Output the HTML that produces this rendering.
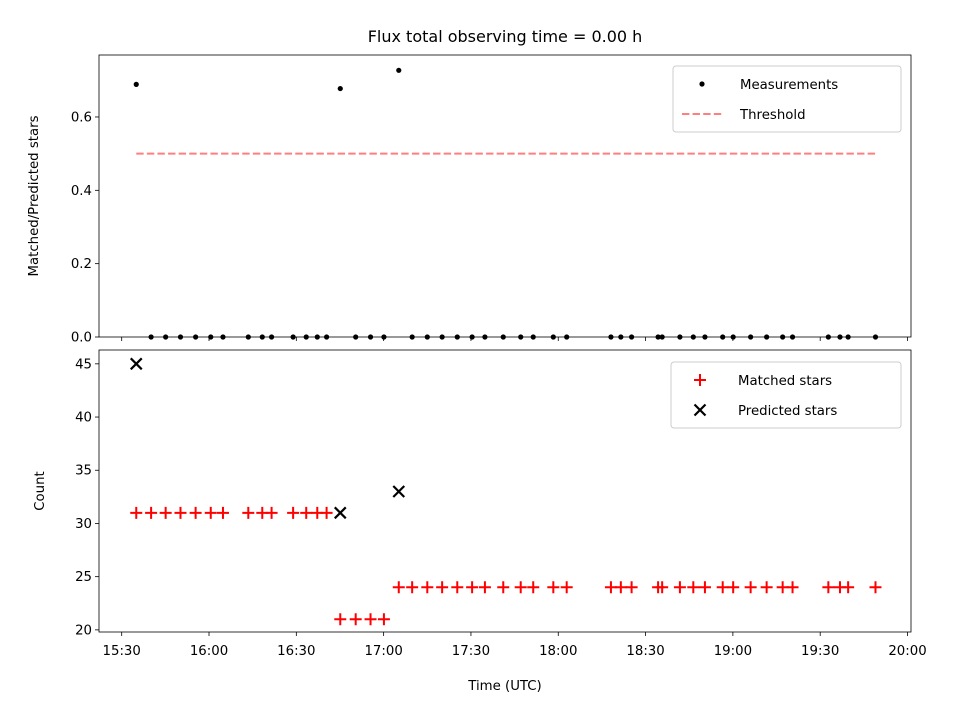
<!DOCTYPE html>
<html><head><meta charset="utf-8"><style>
body{margin:0;background:#fff}
svg{display:block;font-family:"DejaVu Sans","Liberation Sans",sans-serif}
</style></head><body>
<svg id="c" width="960" height="720" viewBox="0 0 960 720">
<rect width="960" height="720" fill="#fff"/>
<text x="505" y="42" text-anchor="middle" font-size="16">Flux total observing time = 0.00 h</text>
<g id="topPanel"></g>
<g id="botPanel"></g>
</svg>
<script>
// minutes after 15:30 UTC
const times=[5.0,10.1,15.1,20.2,25.4,30.6,34.8,43.5,48.3,51.5,58.9,63.4,67.2,70.4,75.1,80.4,85.5,90.1,95.2,99.8,105.0,110.1,115.3,120.4,124.8,131.1,137.1,141.4,148.3,152.9,168.1,171.5,175.2,184.3,185.7,191.8,196.4,200.4,206.5,210.1,216.1,221.6,227.1,230.5,242.8,246.8,249.6,259.0];
const matched=[31,31,31,31,31,31,31,31,31,31,31,31,31,31,21,21,21,21,24,24,24,24,24,24,24,24,24,24,24,24,24,24,24,24,24,24,24,24,24,24,24,24,24,24,24,24,24,24];
const predTimes=[5.0,75.1,95.2];
const predicted=[45,31,33];
const threshold=0.5;
const xTickLabels=["15:30","16:00","16:30","17:00","17:30","18:00","18:30","19:00","19:30","20:00"];
const topTicks=[0.0,0.2,0.4,0.6];
const botTicks=[20,25,30,35,40,45];

const NS="http://www.w3.org/2000/svg";
function mk(p,t,a){const e=document.createElementNS(NS,t);for(const k in a)e.setAttribute(k,a[k]);p.appendChild(e);return e;}
const X0=99,X1=911,xmin=-7.8,xmax=271.2;
const xs=m=>X0+(m-xmin)/(xmax-xmin)*(X1-X0);
const TP={top:55,bot:337,min:0,max:0.769};
const BP={top:350,bot:632,min:19.8,max:46.3};
const ys=(P,v)=>P.bot-(v-P.min)/(P.max-P.min)*(P.bot-P.top);
const topG=document.getElementById('topPanel'),botG=document.getElementById('botPanel');

function frame(g,P,ticks,fmt,showX){
  for(const v of ticks){const y=ys(P,v);
    const t=mk(g,'line',{x1:X0-4,x2:X0,y1:y,y2:y,stroke:'#000','stroke-width':0.8});
    
    
    const l=mk(g,'text',{x:X0-7,y:y+4.5,'text-anchor':'end','font-size':13.3});
    l.textContent=fmt(v);
    
    
  }
  xTickLabels.forEach((s,i)=>{const x=xs(i*30);
    const t=mk(g,'line',{x1:x,x2:x,y1:P.bot,y2:P.bot+4,stroke:'#000','stroke-width':0.8});
    
    
    if(showX){const l=mk(g,'text',{x:x,y:P.bot+23,'text-anchor':'middle','font-size':13.3});
      l.textContent=s;
      
      }
  });
}
function border(g,P){const r=mk(g,'rect',{x:X0,y:P.top,width:X1-X0,height:P.bot-P.top,fill:'none',stroke:'#000','stroke-width':0.8});
  
  }

// top panel
frame(topG,TP,topTicks,v=>v.toFixed(1),false);
const thr=mk(topG,'line',{x1:xs(times[0]),x2:xs(times[times.length-1]),y1:ys(TP,threshold),y2:ys(TP,threshold),stroke:'#ff7f7f','stroke-width':2,'stroke-dasharray':'7.4,3.2'});


times.forEach((m,i)=>{const j=predTimes.indexOf(m);const r=j>=0?matched[i]/predicted[j]:0;
  const c=mk(topG,'circle',{cx:xs(m),cy:ys(TP,r),r:2.6,fill:'#000'});
  
  
});
border(topG,TP);
const yl1=mk(topG,'text',{x:38,y:196,'text-anchor':'middle','font-size':13.3,transform:'rotate(-90 38 196)'});
yl1.textContent='Matched/Predicted stars';


const lg1=mk(topG,'g',{});


mk(lg1,'rect',{x:673,y:66,width:228,height:66,rx:3,fill:'#fff','fill-opacity':0.8,stroke:'#ccc'});
mk(lg1,'circle',{cx:702,cy:84,r:2.6,fill:'#000'});
mk(lg1,'line',{x1:682,x2:722,y1:114,y2:114,stroke:'#ff7f7f','stroke-width':2,'stroke-dasharray':'7.4,3.2'});
let tx=mk(lg1,'text',{x:740,y:89,'font-size':13.3});tx.textContent='Measurements';


tx=mk(lg1,'text',{x:740,y:119,'font-size':13.3});tx.textContent='Threshold';



// bottom panel
frame(botG,BP,botTicks,v=>String(v),true);
function plus(g,cx,cy){return mk(g,'path',{d:`M${cx-6} ${cy}H${cx+6}M${cx} ${cy-6}V${cy+6}`,stroke:'#f00','stroke-width':2});}
function cross(g,cx,cy){return mk(g,'path',{d:`M${cx-5.5} ${cy-5.5}L${cx+5.5} ${cy+5.5}M${cx-5.5} ${cy+5.5}L${cx+5.5} ${cy-5.5}`,stroke:'#000','stroke-width':2.2});}
times.forEach((m,i)=>{const p=plus(botG,xs(m),ys(BP,matched[i]));
  
  });
predTimes.forEach((m,i)=>{const p=cross(botG,xs(m),ys(BP,predicted[i]));
  
  });
border(botG,BP);
const yl2=mk(botG,'text',{x:44,y:491,'text-anchor':'middle','font-size':13.3,transform:'rotate(-90 44 491)'});
yl2.textContent='Count';


const xl=mk(botG,'text',{x:505,y:690,'text-anchor':'middle','font-size':13.3});
xl.textContent='Time (UTC)';


const lg2=mk(botG,'g',{});


mk(lg2,'rect',{x:671,y:362,width:230,height:66,rx:3,fill:'#fff','fill-opacity':0.8,stroke:'#ccc'});
plus(lg2,700,380);cross(lg2,700,410);
tx=mk(lg2,'text',{x:738,y:385,'font-size':13.3});tx.textContent='Matched stars';


tx=mk(lg2,'text',{x:738,y:415,'font-size':13.3});tx.textContent='Predicted stars';


</script>
</body></html>
